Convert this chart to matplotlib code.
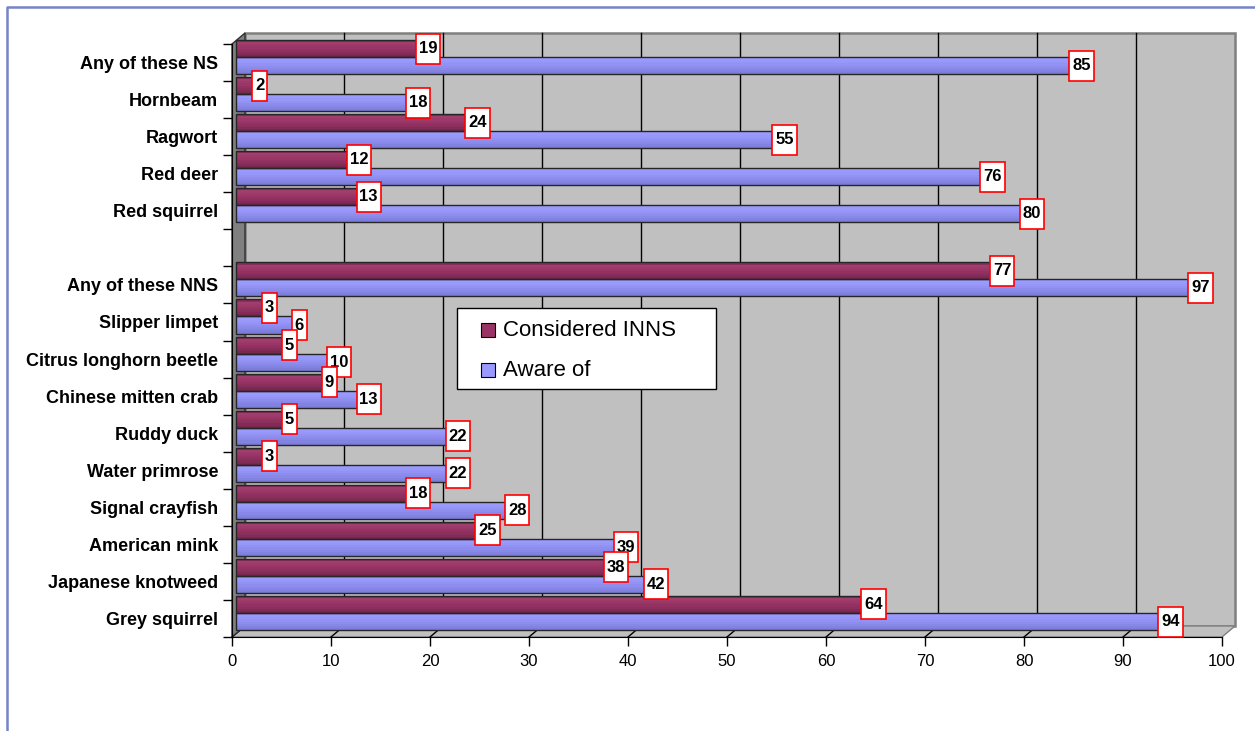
import matplotlib
matplotlib.use("Agg")
import matplotlib.pyplot as plt
import numpy as np
from matplotlib.lines import Line2D
from matplotlib.patches import Polygon, Rectangle

plt.rcParams["font.family"] = ["Liberation Sans", "DejaVu Sans"]

categories = [
    "Any of these NS", "Hornbeam", "Ragwort", "Red deer", "Red squirrel", "",
    "Any of these NNS", "Slipper limpet", "Citrus longhorn beetle", "Chinese mitten crab",
    "Ruddy duck", "Water primrose", "Signal crayfish", "American mink",
    "Japanese knotweed", "Grey squirrel",
]
considered = [19, 2, 24, 12, 13, np.nan, 77, 3, 5, 9, 5, 3, 18, 25, 38, 64]
aware = [85, 18, 55, 76, 80, np.nan, 97, 6, 10, 13, 22, 22, 28, 39, 42, 94]
series_names = ["Considered INNS", "Aware of"]
xticks = list(range(0, 101, 10))

# top-to-bottom shading of the cylinder bars
shades = [
    ["#8a2e5c", "#a13e6e", "#9e3a6a", "#993666", "#933262", "#8b2f5d", "#822b57", "#78274f"],
    ["#9c9cff", "#9a9afd", "#9797f9", "#9292f4", "#8d8dee", "#8888e8", "#8282e1", "#7c7cda"],
]
legend_colors = ["#993366", "#9999ff"]

W, H = 1255, 731
fig = plt.figure(figsize=(W / 100, H / 100), dpi=100)
fig.patch.set_facecolor("white")
ax = fig.add_axes([232 / W, 1 - 637 / H, 990 / W, 593 / H])
n = len(categories)
ax.set_xlim(0, 100)
ax.set_ylim(n - 0.5, -0.5)
ax.patch.set_visible(False)

# pixels per data unit
sx = ax.bbox.width / 100
sy = ax.bbox.height / n
y0, y1 = -0.5, n - 0.5

# depth offset of back wall (px right, px up) and of the bars
ddx, ddy = 13 / sx, -11 / sy
bdx, bdy = 3.5 / sx, -4 / sy

# back wall
ax.add_patch(Rectangle((ddx, y0 + ddy), 100, n, facecolor="#c0c0c0",
                       edgecolor="#808080", lw=1.8, zorder=0, clip_on=False))
for x in xticks[1:-1]:
    ax.plot([x + ddx, x + ddx], [y0 + ddy, y1 + ddy], color="black", lw=1,
            zorder=0.5, clip_on=False)

# floor
ax.add_patch(Polygon([(0, y1), (100, y1), (100 + ddx, y1 + ddy), (ddx, y1 + ddy)],
                     closed=True, facecolor="#c0c0c0", edgecolor="#808080", lw=1,
                     zorder=0.6, clip_on=False))
for x in xticks[:-1]:
    ax.plot([x, x + ddx], [y1, y1 + ddy], color="black", lw=1, zorder=0.7, clip_on=False)

# left wall
ax.add_patch(Polygon([(0, y0), (ddx, y0 + ddy), (ddx, y1 + ddy), (0, y1)],
                     closed=True, facecolor="#808080", edgecolor="#303030", lw=1,
                     zorder=0.8, clip_on=False))

# bars
ypos = np.arange(n)
bar_h = 0.46
for s, vals in enumerate([considered, aware]):
    vals = np.array(vals, dtype=float)
    mask = ~np.isnan(vals)
    top = -0.5 + s * bar_h
    k_n = len(shades[s])
    for k, c in enumerate(shades[s]):
        yc = ypos[mask] + top + (k + 0.5) * bar_h / k_n + bdy
        ax.barh(yc, vals[mask], height=bar_h / k_n, left=bdx, color=c, lw=0,
                zorder=2, clip_on=False)
    ax.barh(ypos[mask] + top + bar_h / 2 + bdy, vals[mask], height=bar_h, left=bdx,
            fill=False, edgecolor="#262626", lw=1, zorder=2.2, clip_on=False)

# data labels
z = 3
for i in range(n):
    for s, vals in enumerate([considered, aware]):
        v = vals[i]
        if np.isnan(v):
            continue
        txt = f"{v:.0f}"
        w = (9.2 * len(txt) + 6) / sx
        h = 30 / sy
        cx = v + 8 / sx
        cy = i - 0.5 + s * bar_h + bar_h / 2 + bdy
        ax.add_patch(Rectangle((cx - w / 2, cy - h / 2), w, h, facecolor="white",
                               edgecolor="#ff0000", lw=1.2, zorder=z, clip_on=False))
        ax.text(cx, cy, txt, ha="center", va="center", fontsize=12, fontweight="bold",
                zorder=z + 0.1)
        z += 0.2

# axes styling
for side in ["top", "right"]:
    ax.spines[side].set_visible(False)
ax.spines["left"].set_zorder(1)
ax.spines["bottom"].set_zorder(1)
ax.set_yticks(ypos)
ax.set_yticklabels(categories, fontsize=13, fontweight="bold")
ax.set_yticks(np.arange(-0.5, n), minor=True)
ax.tick_params(axis="y", which="major", length=0, pad=10)
ax.tick_params(axis="y", which="minor", length=6.5, width=1, direction="out")
ax.set_xticks(xticks)
ax.tick_params(axis="x", length=6.5, width=1, direction="out", labelsize=12, pad=6)

# legend
def fx(px):
    return px / W


def fy(py):
    return 1 - py / H


fig.add_artist(Rectangle((fx(457), fy(389)), fx(716) - fx(457), fy(308) - fy(389),
                         transform=fig.transFigure, facecolor="white",
                         edgecolor="black", lw=1, zorder=10))
for j, (name, col) in enumerate(zip(series_names, legend_colors)):
    yc = 330 + 40 * j
    fig.add_artist(Rectangle((fx(481), fy(yc + 7)), 14 / W, 14 / H,
                             transform=fig.transFigure, facecolor=col,
                             edgecolor="black", lw=0.8, zorder=11))
    fig.text(fx(503), fy(yc), name, fontsize=16, va="center", ha="left", zorder=11)

# outer frame (left and top edges visible)
fig.add_artist(Line2D([fx(7), fx(7), 1], [0, fy(7), fy(7)], transform=fig.transFigure,
                      color="#7783c9", lw=1.8))

fig.savefig("out.png", dpi=100)
